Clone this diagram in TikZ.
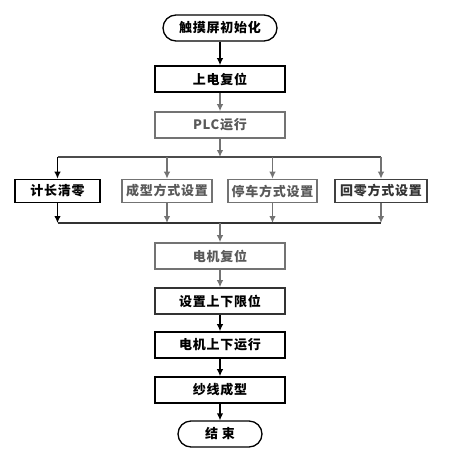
\documentclass[tikz,border=0pt]{standalone}
\usepackage{fontspec}
\setmainfont{Noto Sans CJK SC}[LetterSpace=6]
\usetikzlibrary{shapes,arrows,arrows.meta,calc,positioning}
\definecolor{flowgray}{gray}{0.45}
\tikzset{
>={Latex[length=7pt,width=6.5pt]},
  stepbox/.style={
    rectangle,
    draw=black, line width=1.6pt,
    minimum width=130pt,
    minimum height=26pt,
    inner sep=0pt,
    text centered,
    font=\fontsize{13}{15}\selectfont\bfseries},
  graybox/.style={stepbox, draw=flowgray, text=black!65},
  terminal/.style={stepbox, rounded corners=13pt, line width=1.3pt},
  modebox/.style={stepbox, minimum height=23pt},
  line/.style={draw, line width=1.3pt, ->},
  grayline/.style={line, flowgray},
}

\begin{document}
\begin{tikzpicture}[x=1pt, y=-1pt]
    \useasboundingbox (0,0) rectangle (460,471);

    %main column
    \node[terminal, minimum width=114pt] (start) at (220,28) {触摸屏初始化};
    \node[stepbox] (reset) at (220,79) {上电复位};
    \node[graybox] (plc) at (220,125) {PLC运行};

    %settings row
    \node[modebox, minimum width=85pt] (len) at (57.5,191) {计长清零};
    \node[modebox, graybox, minimum height=23pt, minimum width=90pt] (form) at (167,191) {成型方式设置};
    \node[modebox, graybox, minimum height=23pt, minimum width=89pt] (stop) at (272.5,191) {停车方式设置};
    \node[modebox, draw=black!75, text=black!80, minimum width=92pt] (home) at (381,191) {回零方式设置};

    %lower column
    \node[graybox] (motor) at (220,256) {电机复位};
    \node[stepbox, draw=black!80] (limit) at (220,301) {设置上下限位};
    \node[stepbox] (run) at (220,345) {电机上下运行};
    \node[stepbox] (yarn) at (220,390) {纱线成型};
    \node[terminal, minimum width=84pt] (stopend) at (220,434) {结\ 束};

    %bus coordinates
    \coordinate (topbus) at (220,157);
    \coordinate (botbus) at (220,223);

    %connectors
    \draw[line] (start) -- (reset);
    \draw[grayline] (reset) -- (plc);
    \draw[grayline] (plc) -- (topbus);
    \draw[line width=1.3pt, black!70] (len.north |- topbus) -- (home.north |- topbus);
    \draw[line] (len.north |- topbus) -- (len.north);
    \draw[grayline] (form.north |- topbus) -- (form.north);
    \draw[grayline] (stop.north |- topbus) -- (stop.north);
    \draw[grayline] (home.north |- topbus) -- (home.north);

    \draw[line] (len.south) -- (len.south |- botbus);
    \draw[grayline] (form.south) -- (form.south |- botbus);
    \draw[grayline] (stop.south) -- (stop.south |- botbus);
    \draw[grayline] (home.south) -- (home.south |- botbus);
    \draw[line width=1.3pt, black!80] (len.south |- botbus) -- (home.south |- botbus);
    \draw[grayline] (botbus) -- (motor);

    \draw[grayline] (motor) -- (limit);
    \draw[line] (limit) -- (run);
    \draw[line] (run) -- (yarn);
    \draw[line] (yarn) -- (stopend);
\end{tikzpicture}
\end{document}
